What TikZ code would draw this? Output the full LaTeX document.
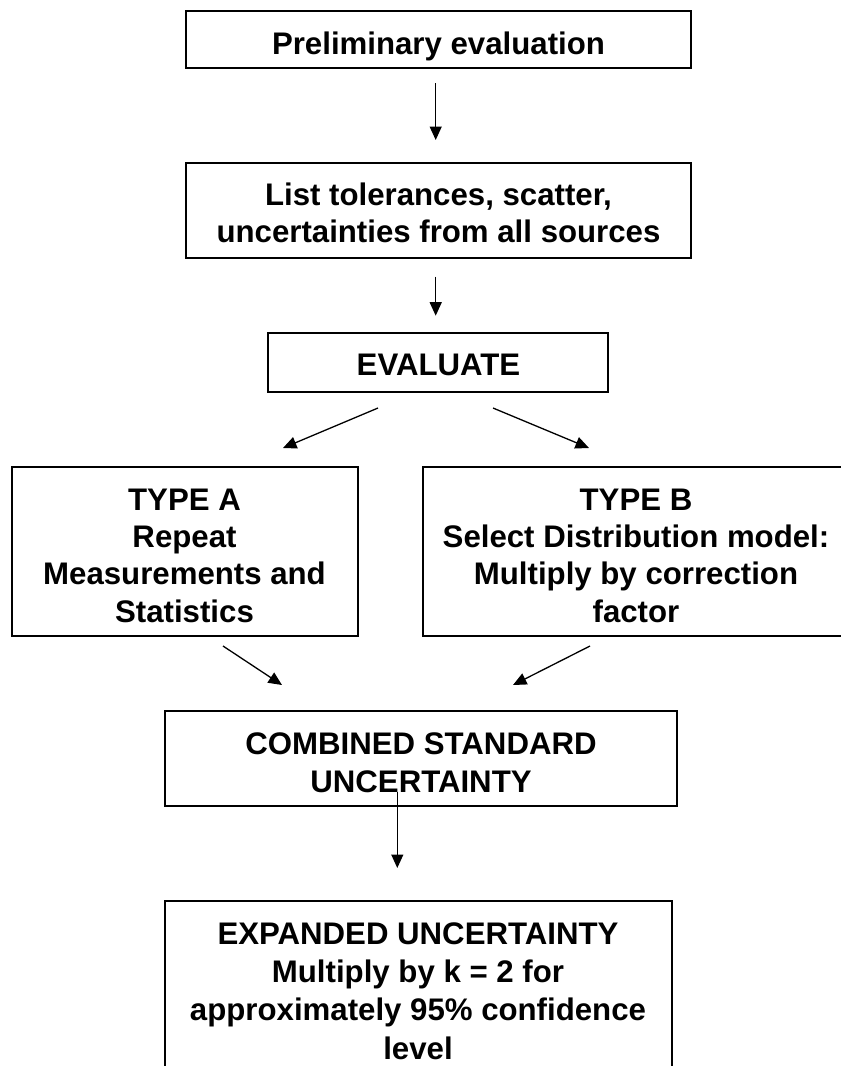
\documentclass[tikz,border=0pt]{standalone}
\usepackage{fontspec}
\setmainfont{Liberation Sans}
\usetikzlibrary{arrows.meta}
\begin{document}
\begin{tikzpicture}[x=1pt,y=-1pt,
  box/.style={draw, line width=2pt, inner sep=0pt},
  txt/.style={align=center, inner sep=0pt, font=\bfseries\fontsize{31.2}{37.3}\selectfont},
  txtw/.style={align=center, inner sep=0pt, font=\bfseries\fontsize{31.2}{38.3}\selectfont},
  arr/.style={line width=1.3pt, -{Triangle[length=13.5pt,width=12pt]}}]
\useasboundingbox (0,0) rectangle (841,1066);
% boxes
\node[box, minimum width=504.7, minimum height=57.6] (b1) at (438.35,39.5) {};
\node[box, minimum width=504.7, minimum height=94.8] (b2) at (438.35,210.1) {};
\node[box, minimum width=340, minimum height=58.4] (b3) at (438.3,362.5) {};
\node[box, minimum width=346.6, minimum height=168.7] (b4) at (185,551.3) {};
\node[box, minimum width=425.7, minimum height=168.7] (b5) at (636,551.3) {};
\node[box, minimum width=512, minimum height=94.7] (b6) at (421,758.3) {};
\node[box, minimum width=507, minimum height=199] (b7) at (418.5,1000.5) {};
% texts
\node[txt] (t1) at (438.5,46.6) {\strut Preliminary evaluation\strut};
\node[txt] (t2) at (438.5,216.7) {\strut List tolerances, scatter,\\uncertainties from all sources\strut};
\node[txt] (t3) at (438.5,368.2) {\strut EVALUATE\strut};
\node[txt] (t4) at (184.5,558.8) {\strut TYPE A\\Repeat\\Measurements and\\Statistics\strut};
\node[txt] (t5) at (636,558.8) {\strut TYPE B\\Select Distribution model:\\Multiply by correction\\factor\strut};
\node[txtw] (t6) at (421,765.5) {\strut COMBINED STANDARD\\UNCERTAINTY\strut};
\node[txtw] (t7) at (418,993.9) {\strut EXPANDED UNCERTAINTY\\Multiply by k = 2 for\\approximately 95\% confidence\\level\strut};
% arrow end points
\coordinate (a1s) at (435.7,83);   \coordinate (a1e) at (435.7,140);
\coordinate (a2s) at (435.7,276.7);\coordinate (a2e) at (435.7,315.7);
\coordinate (a3s) at (378,408);    \coordinate (a3e) at (283,448);
\coordinate (a4s) at (493,408);    \coordinate (a4e) at (589,448);
\coordinate (a5s) at (223,646);    \coordinate (a5e) at (282,685);
\coordinate (a6s) at (590,646);    \coordinate (a6e) at (513,685);
\coordinate (a7s) at (397.3,791.7);\coordinate (a7e) at (397.3,868);
\draw[arr] (a1s) -- (a1e);
\draw[arr] (a2s) -- (a2e);
\draw[arr] (a3s) -- (a3e);
\draw[arr] (a4s) -- (a4e);
\draw[arr] (a5s) -- (a5e);
\draw[arr] (a6s) -- (a6e);
\draw[arr] (a7s) -- (a7e);
\end{tikzpicture}
\end{document}
